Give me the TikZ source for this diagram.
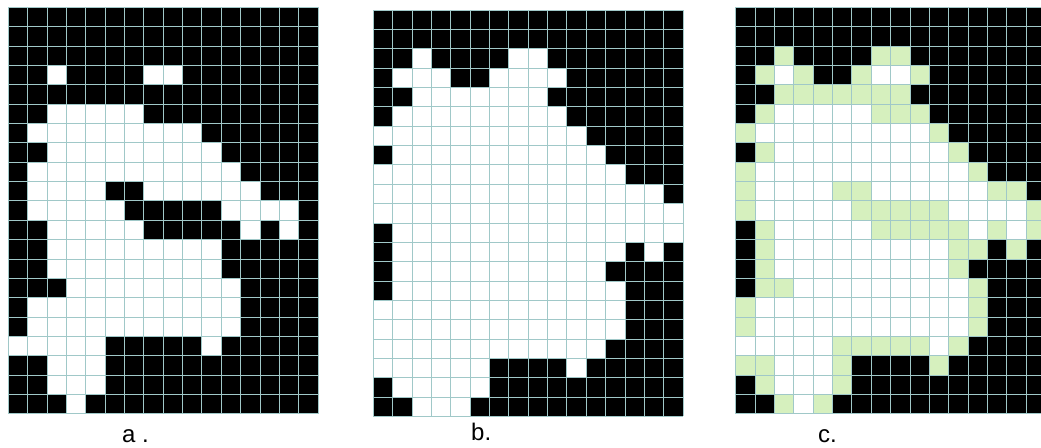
\documentclass[tikz,border=0pt]{standalone}
\usepackage{fontspec}
\setmainfont{Liberation Sans}
\usepackage{xstring}
\definecolor{gridline}{RGB}{160,200,200}
\definecolor{diffgreen}{RGB}{214,240,190}
\tikzset{
  lbl/.style={font=\fontsize{24}{24}\selectfont, inner sep=0pt, anchor=base west},
  gridstroke/.style={draw=gridline, line width=0.7pt},
}
\begin{document}
\begin{tikzpicture}[x=1pt,y=-1pt]
\useasboundingbox (0,0) rectangle (1041,447);
\def\cw{19.35}
\def\ax{8.3}\def\ay{7.3}
\def\bx{373.3}\def\by{10}
\def\cx{735.7}\def\cy{7.3}
\begin{scope}
\clip (0,0) rectangle (1041,447);
% black backgrounds
\fill[black] (\ax,\ay) rectangle ++(16*\cw,21*\cw);
\fill[black] (\bx,\by) rectangle ++(16*\cw,21*\cw);
\fill[black] (\cx,\cy) rectangle ++(16*\cw,21*\cw);
\foreach \ra/\rb [count=\r from 0] in {
 0000000000000000/0000000000000000,
 0000000000000000/0000000000000000,
 0000000000000000/0010000110000000,
 0010000110000000/0111001111000000,
 0000000000000000/0011111110000000,
 0011111000000000/0111111111000000,
 0111111111000000/1111111111100000,
 0011111111100000/0111111111110000,
 0111111111110000/1111111111111000,
 0111100111111000/1111111111111110,
 0111110000011110/1111111111111111,
 0011111000001010/0111111111111111,
 0011111111100000/0111111111111010,
 0011111111100000/0111111111110000,
 0001111111110000/0111111111111000,
 0111111111110000/1111111111111000,
 0111111111110000/1111111111111000,
 1111100000100000/1111111111110000,
 0011100000000000/1111110000100000,
 0011100000000000/0111110000000000,
 0001000000000000/0011100000000000}{
  \foreach \c in {0,...,15}{
    \pgfmathtruncatemacro\k{\c+1}
    \StrChar{\ra}{\k}[\cha]
    \StrChar{\rb}{\k}[\chb]
    \if1\cha
      \fill[white] (\ax+\c*\cw,\ay+\r*\cw) rectangle ++(\cw,\cw);
      \fill[white] (\cx+\c*\cw,\cy+\r*\cw) rectangle ++(\cw,\cw);
    \else
      \if1\chb
        \fill[diffgreen] (\cx+\c*\cw,\cy+\r*\cw) rectangle ++(\cw,\cw);
      \fi
    \fi
    \if1\chb
      \fill[white] (\bx+\c*\cw,\by+\r*\cw) rectangle ++(\cw,\cw);
    \fi
  }
}
% grid lines
\foreach \px/\py in {\ax/\ay,\bx/\by,\cx/\cy}{
  \foreach \i in {0,...,16}
    \draw[gridstroke] (\px+\i*\cw,\py) -- ++(0,21*\cw);
  \foreach \j in {0,...,21}
    \draw[gridstroke] (\px,\py+\j*\cw) -- ++(16*\cw,0);
}
\end{scope}
\node[lbl] (la) at (122,442) {a .};
\node[lbl] (lb) at (471,440) {b.};
\node[lbl] (lc) at (818,442) {c.};
\end{tikzpicture}
\end{document}
